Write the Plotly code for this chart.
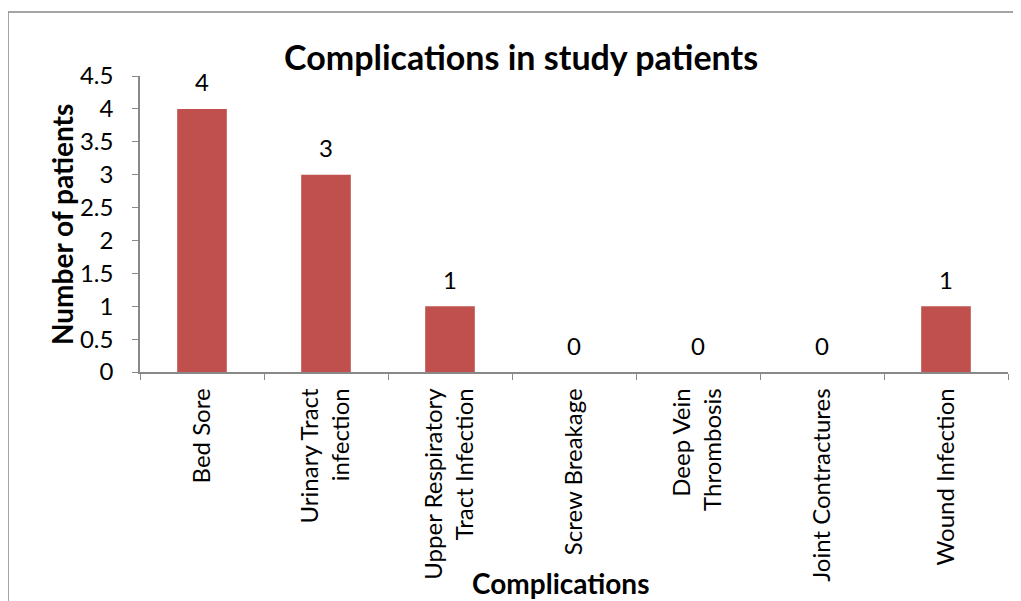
import plotly.graph_objects as go

categories = ["Bed Sore", "Urinary Tract<br>infection", "Upper Respiratory<br>Tract Infection",
              "Screw Breakage", "Deep Vein<br>Thrombosis", "Joint Contractures", "Wound Infection"]
values = [4, 3, 1, 0, 0, 0, 1]
y_ticks = [0, 0.5, 1, 1.5, 2, 2.5, 3, 3.5, 4, 4.5]
y_tick_text = ["0", "0.5", "1", "1.5", "2", "2.5", "3", "3.5", "4", "4.5"]

FONT = "Lato, Open Sans, sans-serif"
OFF = 8  # page body margin
W, H = 1013, 593
L, R, T, B = 140 - OFF, 13, 76 - OFF, 229
pw, ph = W - L - R, H - T - B

def px_x(p):
    return (p - OFF - L) / pw

def px_y(p):
    return (H - B - (p - OFF)) / ph

fig = go.Figure(go.Bar(
    x=categories, y=values,
    marker=dict(color="#C0504D", line=dict(width=0)),
    cliponaxis=False,
))

label_annotations = [
    dict(x=c, y=v, xref="x", yref="y", text=str(v), showarrow=False,
         xanchor="center", yanchor="middle", yshift=27,
         font=dict(size=24, family=FONT, color="black"))
    for c, v in zip(categories, values)
]

fig.update_layout(
    width=W, height=H,
    margin=dict(l=L, r=R, t=T, b=B),
    plot_bgcolor="white", paper_bgcolor="white",
    bargap=0.6,
    showlegend=False,
    font=dict(family=FONT, color="black"),
    xaxis=dict(
        showline=True, linecolor="#888888", linewidth=1.5,
        ticks="outside", ticklen=6, tickcolor="#888888", tickson="boundaries",
        tickangle=-90, tickfont=dict(size=24, family=FONT),
        showgrid=False, ticklabelstandoff=5,
    ),
    yaxis=dict(
        range=[0, 4.5], tickvals=y_ticks, ticktext=y_tick_text,
        showline=True, linecolor="#888888", linewidth=1.5,
        ticks="outside", ticklen=6, tickcolor="#888888", ticklabelstandoff=14,
        tickfont=dict(size=24, family=FONT), showgrid=False, zeroline=False,
    ),
    annotations=label_annotations + [
        dict(text="<b>Complications in study patients</b>", xref="paper", yref="paper",
             x=px_x(521), y=px_y(57), xanchor="center", yanchor="middle",
             showarrow=False, font=dict(size=34, family=FONT)),
        dict(text="<b>Number of patients</b>", xref="paper", yref="paper",
             x=px_x(62), y=px_y(225), xanchor="center", yanchor="middle", textangle=-90,
             showarrow=False, font=dict(size=28, family=FONT)),
        dict(text="<b>Complications</b>", xref="paper", yref="paper",
             x=px_x(560), y=px_y(583), xanchor="center", yanchor="middle",
             showarrow=False, font=dict(size=28, family=FONT)),
    ],
    shapes=[dict(type="rect", xref="paper", yref="paper",
                 x0=px_x(8), x1=px_x(1060), y0=px_y(640), y1=px_y(12),
                 line=dict(color="#888888", width=1.5), layer="below")],
)

fig.write_html("out.html", config={"displayModeBar": False})
